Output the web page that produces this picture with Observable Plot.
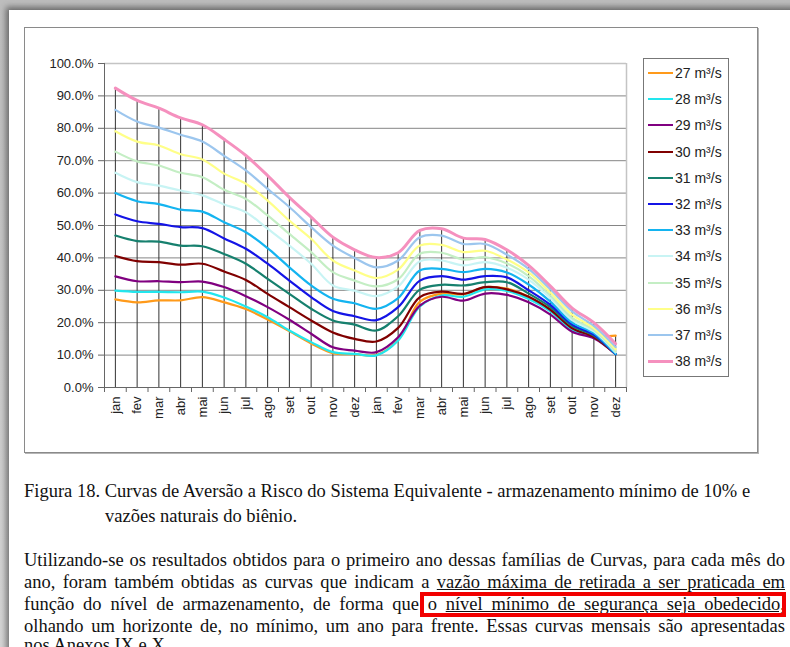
<!DOCTYPE html>
<html><head><meta charset="utf-8">
<script src="https://cdn.jsdelivr.net/npm/d3@7"></script>
<script src="https://cdn.jsdelivr.net/npm/@observablehq/plot@0.6"></script>
<style>
html,body{margin:0;padding:0;}
body{width:790px;height:647px;overflow:hidden;position:relative;background:linear-gradient(#bdbdbd,#d6d6d6);font-family:"Liberation Sans",Arial,sans-serif;}
#page{position:absolute;left:9px;top:10px;width:800px;height:660px;background:#fff;box-shadow:-3px -3px 6px rgba(0,0,0,.45);}
#frame{position:absolute;left:24px;top:27px;width:732px;height:424px;border:1px solid #8a8a8a;box-shadow:1px 1px 0 #b5b5b5;background:#fff;}
#chart{position:absolute;left:24px;top:27px;}
#legend{position:absolute;left:643px;top:58px;width:86px;height:319px;border:1px solid #777;background:#fff;box-sizing:border-box;padding-top:1px;}
.item{height:26.2px;display:flex;align-items:center;font-size:14px;color:#222;white-space:nowrap;}
.sw{width:25px;margin-left:4px;margin-right:2px;}
.serif{font-family:"Liberation Serif","Times New Roman",serif;font-size:18.5px;line-height:18px;color:#111;position:absolute;white-space:nowrap;}
.jl{width:761px;text-align:justify;text-align-last:justify;}
#redbox{position:absolute;left:420px;top:592px;width:358px;height:17px;border:4px solid #f20000;}
</style></head>
<body>
<div id="page"></div>
<div id="frame"></div>
<div id="chart"></div>
<div id="legend"></div>
<div class="serif" style="left:24px;top:482px;">Figura 18. Curvas de Aversão a Risco do Sistema Equivalente - armazenamento mínimo de 10% e</div>
<div class="serif" style="left:105px;top:507px;">vazões naturais do biênio.</div>
<div class="serif jl" style="left:24px;top:551px;">Utilizando-se os resultados obtidos para o primeiro ano dessas famílias de Curvas, para cada mês do</div>
<div class="serif jl" style="left:24px;top:573px;">ano, foram também obtidas as curvas que indicam a <u>vazão máxima de retirada a ser praticada em</u></div>
<div class="serif jl" style="left:24px;top:595px;">função do nível de armazenamento, de forma que o <u>nível mínimo de segurança seja obedecido,</u></div>
<div class="serif jl" style="left:24px;top:617px;">olhando um horizonte de, no mínimo, um ano para frente. Essas curvas mensais são apresentadas</div>
<div class="serif" style="left:24px;top:636px;">nos Anexos IX e X.</div>
<div id="redbox"></div>
<script>
const months = ["jan","fev","mar","abr","mai","jun","jul","ago","set","out","nov","dez"];
const periods = months.concat(months);
const flows = [27,28,29,30,31,32,33,34,35,36,37,38];
const colors = ["#FF9A1A","#22E6EE","#800080","#800000","#16806E","#1414E6","#14B4F0","#C8F4F4","#C4EEC4","#FFFF88","#9CC6EE","#F590BE"];
const yTicks = [0,10,20,30,40,50,60,70,80,90,100];

const s27 = [27.2,26.3,26.9,26.9,27.9,26.3,24.2,21.0,17.4,13.6,10.6,10.3, 10.1,14.7,26.5,29.0,28.8,31.0,30.5,28.0,24.0,18.3,16.0,16.0];
const s28 = [29.9,29.5,29.5,29.4,29.6,27.8,25.0,21.7,17.6,14.0,10.9,10.4, 9.9,14.5,25.0,28.4,28.0,30.3,29.8,27.3,23.5,17.8,15.5,10.3];
const s29 = [34.3,32.8,32.8,32.5,32.7,31.0,28.2,24.8,20.9,16.6,12.4,11.4, 10.9,15.5,25.3,28.0,26.8,29.0,28.6,26.3,22.5,17.2,15.2,10.3];
const s30 = [40.6,39.0,38.7,37.9,38.2,35.8,33.2,28.9,24.8,20.7,17.0,15.0, 14.2,18.4,27.9,29.6,28.9,31.0,30.3,28.0,24.0,18.3,15.6,10.3];
const s31 = [46.9,45.2,45.0,43.8,43.6,41.2,38.2,33.5,28.9,24.3,20.7,19.4, 17.6,22.0,30.2,31.7,31.5,32.5,32.5,29.0,24.8,19.0,16.0,10.3];
const s32 = [53.4,51.3,50.5,49.5,49.2,46.0,42.8,38.2,33.0,27.9,23.6,22.0, 20.8,24.8,33.0,34.4,33.3,34.4,34.0,30.0,25.5,19.5,16.3,10.3];
const s33 = [60.0,57.5,56.6,54.9,54.3,51.0,47.9,43.0,37.1,31.5,27.4,26.0, 24.3,27.6,36.1,36.6,35.6,36.6,35.5,31.8,26.5,20.0,16.8,10.3];
const s34 = [66.3,63.4,62.3,60.8,59.3,56.5,54.1,49.0,43.8,38.2,31.5,29.9, 28.2,31.2,39.0,39.2,37.7,38.7,37.0,33.3,27.6,20.8,17.3,10.8];
const s35 = [72.8,69.8,68.5,66.3,64.9,61.0,58.2,53.1,47.4,41.8,35.6,33.0, 31.2,33.4,41.3,41.6,39.5,40.2,38.3,34.4,28.4,21.5,17.8,11.2];
const s36 = [79.1,75.9,74.7,72.0,70.4,66.0,62.9,57.7,51.5,45.9,39.2,36.1, 33.8,36.4,43.8,44.0,41.8,42.2,39.5,35.5,29.3,22.5,18.3,11.8];
const s37 = [85.7,82.1,80.2,78.0,75.9,71.5,67.0,61.3,55.7,49.5,43.8,40.0, 37.1,39.2,46.4,46.9,44.3,44.3,41.0,36.6,30.3,23.5,19.0,12.5];
const s38 = [92.4,88.6,86.2,83.2,81.1,76.6,71.6,65.4,58.7,52.6,46.4,42.5, 40.1,41.6,48.5,49.0,46.1,45.7,42.5,37.7,31.3,24.5,20.0,13.5];
const seriesValues = [s27,s28,s29,s30,s31,s32,s33,s34,s35,s36,s37,s38];

const maxima = periods.map((p,i) => ({i, v: d3.max(seriesValues, s => s[i])}));
const lineMarks = flows.map((f,k) => Plot.line(seriesValues[k].map((v,i) => ({i, v})), {
  x: d => d.i + 0.5, y: "v", stroke: colors[k], strokeWidth: k === 11 ? 3 : 2.2, curve: "catmull-rom"
}));

const chart = Plot.plot({
  width: 733, height: 425,
  marginLeft: 80, marginRight: 131, marginTop: 36, marginBottom: 65,
  x: {type: "linear", domain: [0, periods.length]},
  y: {domain: [0, 100]},
  style: {fontFamily: "Liberation Sans, Arial, sans-serif", fontSize: "13px", color: "#222", background: "transparent"},
  marks: [
    Plot.ruleY(yTicks.filter(d => d > 0 && d < 100), {stroke: "#858585", strokeWidth: 1}),
    Plot.ruleY([100], {stroke: "#c4c4c4", strokeWidth: 1.5}),
    Plot.ruleX([periods.length], {stroke: "#c4c4c4", strokeWidth: 1.5}),
    Plot.ruleX(maxima, {x: d => d.i + 0.5, y1: 0, y2: "v", stroke: "#333", strokeWidth: 1}),
    ...lineMarks,
    Plot.ruleX([0], {stroke: "#666"}),
    Plot.ruleY([0], {stroke: "#666"}),
    Plot.axisY({ticks: yTicks, tickFormat: d => d.toFixed(1) + "%", tickSize: 6, tickPadding: 5, stroke: "#666", label: null}),
    Plot.axisX({ticks: d3.range(periods.length + 1), tickSize: 5, tickFormat: () => "", stroke: "#666", label: null}),
    Plot.axisX({ticks: periods.map((p,i) => i + 0.5), tickSize: 0, tickPadding: 9, tickRotate: -90, tickFormat: d => periods[Math.floor(d)], label: null})
  ]
});
document.getElementById("chart").appendChild(chart);

const legend = document.getElementById("legend");
flows.forEach((f,k) => {
  const it = document.createElement("div");
  it.className = "item";
  it.innerHTML = `<span class="sw" style="border-top:${k === 11 ? 3 : 2.5}px solid ${colors[k]}"></span><span>${f} m³/s</span>`;
  legend.appendChild(it);
});
</script>
</body></html>
